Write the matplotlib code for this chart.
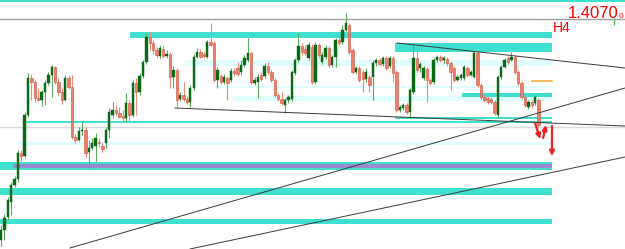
import matplotlib
matplotlib.use("Agg")
import matplotlib.pyplot as plt
import numpy as np

# H4 candles (open, close, high, low)
opens = [1.3620, 1.3640, 1.3666, 1.3696, 1.3730, 1.3742, 1.3794, 1.3788, 1.3870, 1.3944,
         1.3936, 1.3904, 1.3900, 1.3916, 1.3934, 1.3950, 1.3966, 1.3936, 1.3916, 1.3900,
         1.3944, 1.3926, 1.3826, 1.3820, 1.3838, 1.3840, 1.3796, 1.3804, 1.3808, 1.3816,
         1.3808, 1.3814, 1.3840, 1.3870, 1.3880, 1.3874, 1.3868, 1.3864, 1.3894, 1.3870,
         1.3934, 1.3916, 1.3948, 1.3976, 1.4026, 1.4014, 1.4000, 1.3988, 1.4002, 1.3988,
         1.3992, 1.3946, 1.3960, 1.3902, 1.3910, 1.3902, 1.3896, 1.3924, 1.3986, 1.3996,
         1.3992, 1.3986, 1.4016, 1.4014, 1.3940, 1.3948, 1.3936, 1.3944, 1.3940, 1.3958,
         1.3964, 1.3956, 1.3970, 1.3980, 1.3994, 1.3934, 1.3936, 1.3950, 1.3948, 1.3968,
         1.3956, 1.3940, 1.3910, 1.3902, 1.3890, 1.3900, 1.3902, 1.3954, 1.3980, 1.4008,
         1.4002, 1.3984, 1.4006, 1.3936, 1.4010, 1.3976, 1.3986, 1.4004, 1.3970, 1.3986,
         1.4020, 1.4016, 1.4040, 1.4050, 1.4000, 1.3956, 1.3964, 1.3956, 1.3942, 1.3946,
         1.3946, 1.3974, 1.3980, 1.3972, 1.3984, 1.3968, 1.3984, 1.3956, 1.3880, 1.3884,
         1.3890, 1.3876, 1.3916, 1.3984, 1.3964, 1.3944, 1.3962, 1.3940, 1.3936, 1.3980,
         1.3986, 1.3980, 1.3982, 1.3974, 1.3964, 1.3940, 1.3944, 1.3944, 1.3964, 1.3950,
         1.3946, 1.3994, 1.3930, 1.3906, 1.3904, 1.3902, 1.3896, 1.3870, 1.3946, 1.3966,
         1.3984, 1.3980, 1.3986, 1.3956, 1.3934, 1.3906, 1.3886, 1.3896, 1.3894, 1.3900]
closes = [1.3640, 1.3664, 1.3700, 1.3730, 1.3742, 1.3794, 1.3788, 1.3870, 1.3944, 1.3936,
          1.3904, 1.3900, 1.3916, 1.3934, 1.3950, 1.3966, 1.3936, 1.3916, 1.3900, 1.3944,
          1.3926, 1.3826, 1.3820, 1.3838, 1.3840, 1.3794, 1.3804, 1.3814, 1.3824, 1.3814,
          1.3802, 1.3840, 1.3876, 1.3880, 1.3874, 1.3866, 1.3864, 1.3894, 1.3870, 1.3934,
          1.3916, 1.3948, 1.3976, 1.4026, 1.4014, 1.4000, 1.3990, 1.4004, 1.3988, 1.3992,
          1.3946, 1.3960, 1.3900, 1.3910, 1.3902, 1.3896, 1.3924, 1.3986, 1.3996, 1.3986,
          1.3988, 1.4016, 1.4010, 1.3940, 1.3960, 1.3936, 1.3946, 1.3934, 1.3958, 1.3954,
          1.3952, 1.3970, 1.3984, 1.3994, 1.3936, 1.3940, 1.3946, 1.3942, 1.3968, 1.3956,
          1.3940, 1.3910, 1.3902, 1.3894, 1.3900, 1.3906, 1.3956, 1.3980, 1.4008, 1.3996,
          1.3994, 1.4010, 1.3936, 1.4010, 1.3990, 1.3990, 1.4004, 1.3970, 1.3986, 1.4020,
          1.4014, 1.4040, 1.4054, 1.3996, 1.3956, 1.3964, 1.3940, 1.3942, 1.3956, 1.3930,
          1.3974, 1.3980, 1.3972, 1.3984, 1.3964, 1.3984, 1.3954, 1.3880, 1.3886, 1.3890,
          1.3876, 1.3920, 1.3984, 1.3960, 1.3972, 1.3964, 1.3940, 1.3934, 1.3980, 1.3986,
          1.3980, 1.3984, 1.3974, 1.3956, 1.3940, 1.3946, 1.3950, 1.3966, 1.3950, 1.3956,
          1.3994, 1.3930, 1.3906, 1.3900, 1.3896, 1.3896, 1.3874, 1.3946, 1.3966, 1.3980,
          1.3976, 1.3986, 1.3956, 1.3934, 1.3906, 1.3890, 1.3896, 1.3890, 1.3906, 1.3850]
highs = [1.3650, 1.3672, 1.3706, 1.3736, 1.3748, 1.3800, 1.3800, 1.3876, 1.3954, 1.3952,
         1.3940, 1.3924, 1.3920, 1.3940, 1.3956, 1.3970, 1.3968, 1.3944, 1.3924, 1.3950,
         1.3950, 1.3950, 1.3832, 1.3846, 1.3856, 1.3846, 1.3820, 1.3824, 1.3834, 1.3824,
         1.3814, 1.3846, 1.3884, 1.3896, 1.3890, 1.3886, 1.3880, 1.3914, 1.3900, 1.3940,
         1.3944, 1.3954, 1.3980, 1.4034, 1.4036, 1.4020, 1.4006, 1.4010, 1.4010, 1.4000,
         1.3996, 1.3968, 1.3964, 1.3916, 1.3936, 1.3908, 1.3930, 1.3992, 1.4004, 1.4002,
         1.3996, 1.4020, 1.4054, 1.4018, 1.3966, 1.3952, 1.3952, 1.3948, 1.3964, 1.3964,
         1.3976, 1.3980, 1.3990, 1.4024, 1.3998, 1.3946, 1.3952, 1.3956, 1.3974, 1.3976,
         1.3960, 1.3944, 1.3914, 1.3916, 1.3904, 1.3910, 1.3960, 1.3984, 1.4034, 1.4014,
         1.4010, 1.4016, 1.4012, 1.4016, 1.4014, 1.3996, 1.4010, 1.4008, 1.3990, 1.4024,
         1.4030, 1.4050, 1.4074, 1.4054, 1.4004, 1.3968, 1.3968, 1.3960, 1.3964, 1.3950,
         1.3980, 1.3984, 1.3984, 1.3988, 1.3988, 1.3988, 1.3988, 1.3960, 1.3890, 1.3894,
         1.3894, 1.3924, 1.4014, 1.4014, 1.3976, 1.3968, 1.3966, 1.3944, 1.3984, 1.3990,
         1.3990, 1.3988, 1.3986, 1.3978, 1.3968, 1.3950, 1.3954, 1.3970, 1.3968, 1.3960,
         1.3998, 1.3998, 1.3934, 1.3910, 1.3908, 1.3906, 1.3900, 1.3950, 1.3970, 1.3984,
         1.3988, 1.3996, 1.3990, 1.3960, 1.3938, 1.3910, 1.3900, 1.3900, 1.3910, 1.3904]
lows = [1.3608, 1.3620, 1.3660, 1.3670, 1.3726, 1.3736, 1.3776, 1.3784, 1.3866, 1.3900,
        1.3896, 1.3898, 1.3888, 1.3890, 1.3930, 1.3906, 1.3932, 1.3908, 1.3892, 1.3898,
        1.3922, 1.3822, 1.3814, 1.3818, 1.3830, 1.3784, 1.3764, 1.3800, 1.3776, 1.3806,
        1.3796, 1.3804, 1.3824, 1.3864, 1.3870, 1.3864, 1.3856, 1.3856, 1.3856, 1.3866,
        1.3870, 1.3910, 1.3944, 1.3972, 1.4000, 1.3992, 1.3984, 1.3984, 1.3984, 1.3984,
        1.3924, 1.3924, 1.3886, 1.3898, 1.3898, 1.3892, 1.3886, 1.3920, 1.3984, 1.3984,
        1.3984, 1.3984, 1.4008, 1.3936, 1.3924, 1.3932, 1.3932, 1.3900, 1.3936, 1.3948,
        1.3948, 1.3950, 1.3966, 1.3976, 1.3932, 1.3930, 1.3904, 1.3938, 1.3944, 1.3952,
        1.3936, 1.3906, 1.3898, 1.3890, 1.3874, 1.3894, 1.3898, 1.3950, 1.3976, 1.3990,
        1.3990, 1.3980, 1.3932, 1.3932, 1.3984, 1.3972, 1.3982, 1.3964, 1.3966, 1.3966,
        1.4010, 1.4012, 1.4038, 1.3992, 1.3952, 1.3952, 1.3936, 1.3916, 1.3936, 1.3916,
        1.3900, 1.3968, 1.3968, 1.3968, 1.3960, 1.3964, 1.3936, 1.3876, 1.3876, 1.3880,
        1.3872, 1.3864, 1.3912, 1.3956, 1.3956, 1.3940, 1.3896, 1.3930, 1.3932, 1.3976,
        1.3976, 1.3974, 1.3968, 1.3920, 1.3936, 1.3938, 1.3940, 1.3940, 1.3946, 1.3948,
        1.3944, 1.3926, 1.3902, 1.3896, 1.3892, 1.3892, 1.3870, 1.3864, 1.3942, 1.3964,
        1.3972, 1.3978, 1.3952, 1.3930, 1.3902, 1.3886, 1.3882, 1.3884, 1.3890, 1.3846]

# zones: (start bar, end bar, low price, high price, colour)
TURQ = "#40E0D0"
PALE = "#E0FFFF"
zones = [
    (38.2, 163, 1.4024, 1.4036, TURQ),
    (116.6, 163, 1.3996, 1.4014, TURQ),
    (54.4, 163, 1.3968, 1.3980, PALE),
    (63.3, 163, 1.3924, 1.3928, PALE),
    (68.6, 163, 1.3898, 1.3908, PALE),
    (136.4, 163, 1.3907, 1.3914, TURQ),
    (116.6, 163, 1.3862, 1.3866, TURQ),
    (7.1, 163, 1.3855, 1.3858, TURQ),
    (4.7, 163, 1.3810, 1.3816, PALE),
    (-1, 163, 1.3760, 1.3776, TURQ),
    (3.5, 163, 1.3764, 1.3773, "#9A8BD0"),
    (-1, 163, 1.3710, 1.3724, TURQ),
    (-1, 163, 1.3652, 1.3662, TURQ),
]

# trend lines: (bar0, price0, bar1, price1)
trendlines = [
    (51.5, 1.3884, 184.6, 1.3848),
    (117.2, 1.4014, 184.6, 1.3964),
    (20.4, 1.3604, 184.6, 1.3924),
    (55.9, 1.3602, 184.6, 1.3786),
]

# red arrows drawn on the chart
arrows = [
    (158.0, 1.3854, 159.5, 1.3822),
    (160.4, 1.3824, 161.2, 1.3850),
    (163.0, 1.3848, 163.0, 1.3788),
]

fig = plt.figure(figsize=(6.25, 2.49), dpi=100)
ax = fig.add_axes([0, 0, 1, 1])
ax.set_xlim(-0.3, 184.6)
ax.set_ylim(1.3602, 1.4100)
ax.axis("off")

# full width lines
ax.axhline(1.4099, color=TURQ, lw=1.5, zorder=1)
ax.axhline(1.4062, color="#A0A0A0", lw=1.0, zorder=1)
ax.axhline(1.3846, color="#DADADA", lw=1.0, zorder=1)

for x0, x1, lo, hi, col in zones:
    ax.fill_between([x0, x1], lo, hi, color=col, lw=0, zorder=1)

ax.plot([157.1, 163], [1.3938, 1.3938], color="#F5B041", lw=1.2, zorder=2)

# candles
o = np.array(opens)
c = np.array(closes)
h = np.array(highs)
l = np.array(lows)
idx = np.arange(len(o))
up = c >= o
ax.vlines(idx[up], l[up], h[up], color="#5FA85F", lw=0.8, zorder=3)
ax.vlines(idx[~up], l[~up], h[~up], color="#E8907E", lw=0.8, zorder=3)
body_lo = np.minimum(o, c)
body_h = np.maximum(np.abs(c - o), 0.00025)
ax.bar(idx[up], body_h[up], bottom=body_lo[up], width=0.7,
       color="#0A6A14", edgecolor="#0A6A14", lw=0.3, zorder=4)
ax.bar(idx[~up], body_h[~up], bottom=body_lo[~up], width=0.7,
       color="#E8806C", edgecolor="#D5503C", lw=0.4, zorder=4)

for x0, y0, x1, y1 in trendlines:
    ax.plot([x0, x1], [y0, y1], color="#3A3A3A", lw=0.7, zorder=5)

for x0, y0, x1, y1 in arrows:
    ax.annotate("", xy=(x1, y1), xytext=(x0, y0),
                arrowprops=dict(arrowstyle="-|>", color="#F02020", lw=1.6,
                                mutation_scale=7, shrinkA=0, shrinkB=0),
                zorder=6)

# labels
ax.text(167.6, 1.4064, "1.4070", color="#FF0000", fontsize=12,
        family=["Liberation Sans Narrow", "Liberation Sans"],
        ha="left", va="baseline", zorder=7)
ax.text(182.6, 1.4064, "0", color="#FF0000", fontsize=6,
        family="Liberation Sans", ha="left", va="baseline", zorder=7)
ax.text(163.3, 1.4036, "H4", color="#FF0000", fontsize=10,
        family="Liberation Sans", ha="left", va="baseline", zorder=7)
ax.vlines(181.2, 1.4050, 1.4064, color="#50C050", lw=1.0, zorder=7)

fig.savefig("out.png", dpi=100)
